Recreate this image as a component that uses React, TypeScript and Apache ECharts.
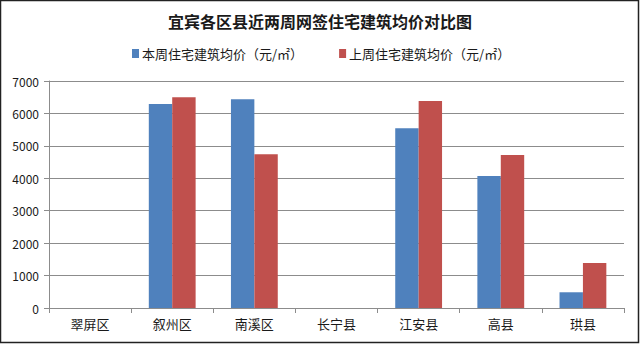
import React, { useEffect, useRef } from "react";
import * as echarts from "echarts";

const categories = ["翠屏区", "叙州区", "南溪区", "长宁县", "江安县", "高县", "珙县"];
const thisWeek = [null, 6290, 6440, null, 5540, 4070, 485];
const lastWeek = [null, 6500, 4740, null, 6380, 4720, 1390];
const seriesNames = ["本周住宅建筑均价（元/㎡）", "上周住宅建筑均价（元/㎡）"];
const titleText = "宜宾各区县近两周网签住宅建筑均价对比图";

const FONT = "'Noto Sans CJK SC', 'Noto Sans', sans-serif";

export default function App() {
  const ref = useRef<HTMLDivElement>(null);
  useEffect(() => {
    if (!ref.current) return;
    const chart = echarts.init(ref.current, undefined, { renderer: "svg" });
    chart.setOption({
      animation: false,
      backgroundColor: "#ffffff",
      title: {
        text: titleText,
        left: "center",
        top: 8,
        textStyle: { fontFamily: FONT, fontSize: 16, fontWeight: "bold", color: "#1a1a1a" },
      },
      legend: {
        top: 42,
        left: 127,
        itemWidth: 7,
        itemHeight: 9,
        itemGap: 36,
        icon: "rect",
        textStyle: { fontFamily: FONT, fontSize: 13, color: "#1a1a1a", padding: [0, 0, 0, -2] },
        data: seriesNames,
      },
      grid: { left: 49, right: 16, top: 81, bottom: 36 },
      xAxis: {
        type: "category",
        data: categories,
        axisLine: { lineStyle: { color: "#8c8c8c" } },
        axisTick: { show: true, length: 5, lineStyle: { color: "#8c8c8c" } },
        axisLabel: { fontFamily: FONT, fontSize: 13, color: "#1a1a1a", margin: 9 },
      },
      yAxis: {
        type: "value",
        min: 0,
        max: 7000,
        interval: 1000,
        axisLine: { show: true, lineStyle: { color: "#8c8c8c" } },
        axisTick: { show: true, length: 5, lineStyle: { color: "#8c8c8c" } },
        axisLabel: {
          fontFamily: FONT,
          fontSize: 12,
          color: "#1a1a1a",
          margin: 10,
          formatter: (v: number) => String(v),
        },
        splitLine: { lineStyle: { color: "#8c8c8c", width: 1 } },
      },
      series: [
        {
          name: seriesNames[0],
          type: "bar",
          data: thisWeek,
          barGap: "0%",
          barCategoryGap: "43%",
          itemStyle: { color: "#4f81bd" },
        },
        {
          name: seriesNames[1],
          type: "bar",
          data: lastWeek,
          barGap: "0%",
          barCategoryGap: "43%",
          itemStyle: { color: "#c0504d" },
        },
      ],
      graphic: [
        {
          type: "rect",
          shape: { x: 0.5, y: 0.5, width: 638, height: 342 },
          style: { fill: "none", stroke: "#222", lineWidth: 1.5 },
          silent: true,
        },
      ],
    });
    return () => chart.dispose();
  }, []);
  return (
    <div
      ref={ref}
      style={{ position: "absolute", left: 0, top: 0, width: 640, height: 344 }}
    />
  );
}
